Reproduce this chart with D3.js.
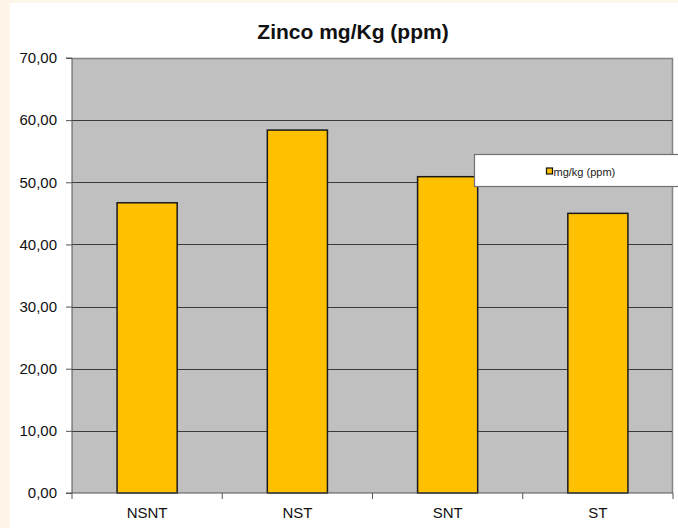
<!DOCTYPE html>
<html>
<head>
<meta charset="utf-8">
<script src="https://cdn.jsdelivr.net/npm/d3@7/dist/d3.min.js"></script>
<style>
  html, body { margin: 0; padding: 0; background: #fdf6e9; }
  svg { display: block; }
</style>
</head>
<body>
<svg id="chart" width="678" height="528"></svg>
<script>
// Zinc content per treatment
const categories = ["NSNT", "NST", "SNT", "ST"];
const values = [46.7, 58.4, 50.9, 45.0];
const yTicks = [0, 10, 20, 30, 40, 50, 60, 70];
const seriesName = "mg/kg (ppm)";
const title = "Zinco mg/Kg (ppm)";

const FONT = "Arial, 'Liberation Sans', sans-serif";
const svg = d3.select("#chart");
const W = 678, H = 528;
const m = { left: 72, right: 5, top: 58, bottom: 35 };

// chart sheet (white) over cream page
svg.append("rect").attr("x", 10).attr("y", 3).attr("width", W - 10).attr("height", H - 3).attr("fill", "#ffffff");

const x = d3.scaleBand().domain(categories).range([m.left, W - m.right]).paddingInner(0.6).paddingOuter(0.3);
const xb = d3.scaleBand().domain(categories).range([m.left, W - m.right]);
const y = d3.scaleLinear().domain([0, 70]).range([H - m.bottom, m.top]);

// plot area
svg.append("rect")
  .attr("x", m.left).attr("y", m.top)
  .attr("width", W - m.right - m.left).attr("height", H - m.bottom - m.top)
  .attr("fill", "#c0c0c0");
svg.append("path")
  .attr("d", `M${m.left},${m.top + 0.5}H${W - m.right - 0.5}V${H - m.bottom}`)
  .attr("fill", "none").attr("stroke", "#858585").attr("stroke-width", 1.5);

// gridlines
svg.append("g").selectAll("line").data(yTicks.filter(d => d > 0 && d < 70)).join("line")
  .attr("x1", m.left).attr("x2", W - m.right - 1)
  .attr("y1", d => Math.round(y(d)) + 0.5).attr("y2", d => Math.round(y(d)) + 0.5)
  .attr("stroke", "#3a3a3a").attr("stroke-width", 1);

// bars
svg.append("g").selectAll("rect").data(values).join("rect")
  .attr("x", (d, i) => x(categories[i]))
  .attr("y", d => y(d))
  .attr("width", x.bandwidth())
  .attr("height", d => y(0) - y(d))
  .attr("fill", "#ffc000")
  .attr("stroke", "#1a1a1a").attr("stroke-width", 1.5);

// y axis
const yAxis = d3.axisLeft(y).tickValues(yTicks).tickSize(6).tickPadding(9)
  .tickFormat(d => d3.format(".2f")(d).replace(".", ","));
const gy = svg.append("g").attr("transform", `translate(${m.left},0)`).call(yAxis);
gy.select(".domain").attr("stroke", "#555").attr("d", `M-6,${y(70)}H0V${y(0)}H-6`);
gy.selectAll(".tick line").attr("stroke", "#555");
gy.selectAll("text").attr("font-family", FONT).attr("font-size", 15).attr("fill", "#111");

// x axis with ticks at category boundaries
const gx = svg.append("g").attr("transform", `translate(0,${y(0)})`);
gx.append("line").attr("x1", m.left).attr("x2", W - m.right).attr("stroke", "#555");
const bounds = categories.map(c => xb(c)).concat([W - m.right]);
gx.selectAll("line.tk").data(bounds).join("line").attr("class", "tk")
  .attr("x1", d => d).attr("x2", d => d).attr("y1", 0).attr("y2", 6).attr("stroke", "#555");
gx.selectAll("text").data(categories).join("text")
  .attr("x", d => xb(d) + xb.bandwidth() / 2).attr("y", 25)
  .attr("text-anchor", "middle")
  .attr("font-family", FONT).attr("font-size", 15).attr("fill", "#111")
  .text(d => d);

// title
svg.append("text").attr("x", 353).attr("y", 39).attr("text-anchor", "middle")
  .attr("font-family", FONT).attr("font-weight", "bold").attr("font-size", 21)
  .attr("fill", "#111").text(title);

// legend
const lg = svg.append("g").attr("transform", "translate(474.5,154.5)");
lg.append("rect").attr("width", 210).attr("height", 32).attr("fill", "#fff").attr("stroke", "#707070").attr("stroke-width", 1.2);
lg.append("rect").attr("x", 72).attr("y", 13.5).attr("width", 6).attr("height", 6).attr("fill", "#ffc000").attr("stroke", "#111").attr("stroke-width", 1.2);
lg.append("text").attr("x", 79).attr("y", 21).attr("font-family", FONT)
  .attr("font-size", 11).attr("fill", "#222").text(seriesName);
</script>
</body>
</html>
